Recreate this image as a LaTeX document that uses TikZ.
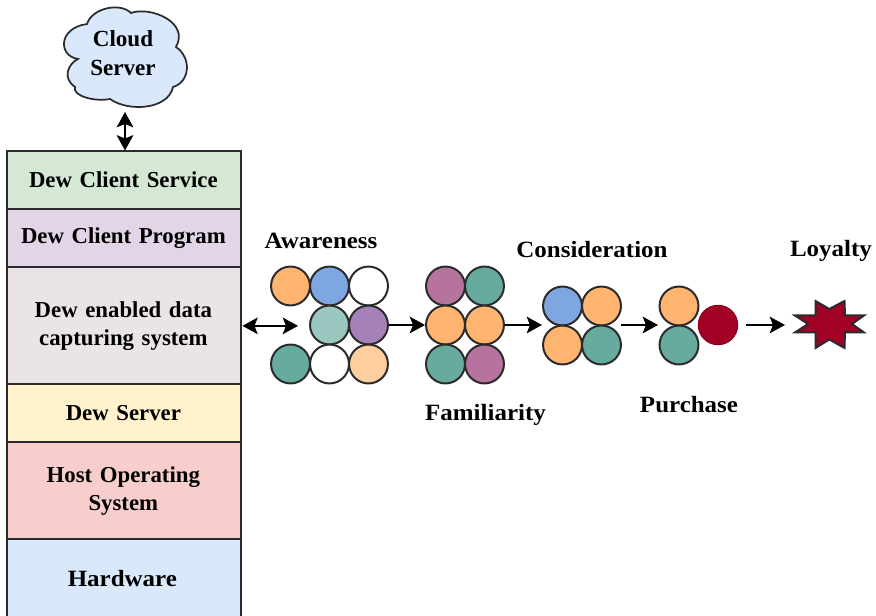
\documentclass[tikz,border=0pt]{standalone}
\usepackage{fontspec}
\setmainfont{Liberation Serif}
\newfontfamily\widefont[FakeStretch=1.07]{Liberation Serif}
\usetikzlibrary{arrows.meta}
\definecolor{edge}{HTML}{2B2B2B}
\definecolor{cgreen}{HTML}{D5E8D4}
\definecolor{cpurple}{HTML}{E1D5E7}
\definecolor{cgrey}{HTML}{EBE4E4}
\definecolor{cyellow}{HTML}{FFF2CC}
\definecolor{cpink}{HTML}{F8CECC}
\definecolor{cblue}{HTML}{DAE8FC}
\definecolor{orange1}{HTML}{FFB570}
\definecolor{orange2}{HTML}{FFCE9F}
\definecolor{blue1}{HTML}{7EA6E0}
\definecolor{teal1}{HTML}{67AB9F}
\definecolor{teal2}{HTML}{9AC7BF}
\definecolor{purple1}{HTML}{A680B8}
\definecolor{mag1}{HTML}{B5739D}
\definecolor{red1}{HTML}{A20025}
\newcommand\lft[1]{\hspace*{-1.5pt}#1}
\tikzset{
  layer/.style={draw=edge,line width=1.6pt,anchor=north west,inner sep=0pt,align=center,
    minimum width=175.5pt,text width=172pt,font=\fontsize{17.1}{21}\selectfont\bfseries},
  circ/.style={circle,draw=edge,line width=1.5pt,fill=#1,minimum size=29.2pt,inner sep=0pt},
  lab/.style={inner sep=0pt,font=\widefont\fontsize{17.5}{22}\selectfont\bfseries},
  arr/.style={draw=black,line width=1.1pt,-{Stealth[length=11.5pt,width=12.5pt,inset=2.5pt]}},
  darr/.style={draw=black,line width=1.1pt,{Stealth[length=11.5pt,width=12.5pt,inset=2.5pt]}-{Stealth[length=11.5pt,width=12.5pt,inset=2.5pt]}}
}
\begin{document}
\begin{tikzpicture}[x=0.75pt,y=-0.75pt]
\useasboundingbox (0,0) rectangle (876,616);
% layers
\node[layer,fill=cgreen,minimum height=43.5pt] (service) at (6.3,150.3) {\lft{\raisebox{1pt}{Dew Client Service}}};
\node[layer,fill=cpurple,minimum height=43.5pt] (program) at (6.3,208.3) {\lft{Dew Client Program}};
\node[layer,fill=cgrey,minimum height=87.75pt] (capture) at (6.3,266.3) {\lft{Dew enabled data}\\\lft{capturing system}};
\node[layer,fill=cyellow,minimum height=43.5pt] (server) at (6.3,383.3) {\lft{Dew Server}};
\node[layer,fill=cpink,minimum height=72.75pt] (host) at (6.3,441.3) {\lft{Host Operating}\\\lft{System}};
\node[layer,fill=cblue,minimum height=58pt,font=\widefont\fontsize{17.5}{22}\selectfont\bfseries] (hw) at (6.3,538.3) {\lft{\lft{Hardware}}};
% cloud outline
\draw[draw=edge,line width=1.3pt,fill=cblue]
  (87,24) .. controls (92,8) and (120,2) .. (131,13)
  .. controls (150,6) and (190,22) .. (176,47)
  .. controls (192,58) and (190,82) .. (173,87)
  .. controls (168,110) and (128,112) .. (110,99)
  .. controls (95,102) and (72,96) .. (75,87)
  .. controls (62,78) and (68,64) .. (78,59)
  .. controls (58,56) and (58,28) .. (87,24) -- cycle;
\node[minimum height=87.75pt,minimum width=60pt,inner sep=0pt,align=center,
  font=\fontsize{17.3}{21.75}\selectfont\bfseries] (cloud) at (123,53.5) {Cloud\\Server};
% awareness
\node[circ=orange1] (a1) at (290.5,286) {};
\node[circ=blue1] (a2) at (329.5,286) {};
\node[circ=white] (a3) at (368.5,286) {};
\node[circ=teal2] (a4) at (329.5,325) {};
\node[circ=purple1] (a5) at (368.5,325) {};
\node[circ=teal1] (a6) at (290.5,364) {};
\node[circ=white] (a7) at (329.5,364) {};
\node[circ=orange2] (a8) at (368.5,364) {};
% familiarity
\node[circ=mag1] (f1) at (445.5,286) {};
\node[circ=teal1] (f2) at (484.5,286) {};
\node[circ=orange1] (f3) at (445.5,325) {};
\node[circ=orange1] (f4) at (484.5,325) {};
\node[circ=teal1] (f5) at (445.5,364) {};
\node[circ=mag1] (f6) at (484.5,364) {};
% consideration
\node[circ=blue1] (c1) at (562.5,306) {};
\node[circ=orange1] (c2) at (601.5,306) {};
\node[circ=orange1] (c3) at (562.5,345) {};
\node[circ=teal1] (c4) at (601.5,345) {};
% purchase
\node[circ=orange1] (p1) at (679,306) {};
\node[circ=teal1] (p2) at (679,345) {};
\node[circle,fill=red1,draw=red1!85!black,line width=0.8pt,minimum size=29.5pt,inner sep=0pt] (p3) at (718,325) {};
% loyalty star
\draw[draw=edge,line width=1.5pt,fill=red1,line join=miter]
  (815.5,301)--(829.3,309)--(844.5,301)--(845,315.5)--(864,315.5)--(852,324)--(864,332.5)--(845,332.5)
  --(844.5,348)--(829.3,339.5)--(815.5,348)--(815.5,332.5)--(795,332.5)--(808,324)--(795,315.5)--(815.5,315.5)--cycle;
\coordinate (starl) at (785,325);
\coordinate (awl) at (298,324.8);
\coordinate (cr) at (621,325);
\coordinate (cl) at (542,325);
\coordinate (pl) at (658,325);
\coordinate (pr) at (746,325);
% labels
\node[lab] (l1) at (321,241) {Awareness};
\node[lab] (l2) at (485.5,415) {Familiarity};
\node[lab] (l3) at (592,250) {Consideration};
\node[lab] (l4) at (689,405) {Purchase};
\node[lab] (l5) at (831,251) {Loyalty};
% connectors
\coordinate (cloudtip) at (125,112);
\coordinate (servicetop) at (125,150.5);
\draw[darr] (cloudtip) -- (servicetop);
\draw[darr] (capture.east) -- (capture.east -| awl);
\draw[arr] (a5) -- (f3);
\draw[arr] (f4) -- (cl);
\draw[arr] (cr) -- (pl);
\draw[arr] (pr) -- (starl);
\end{tikzpicture}
\end{document}
